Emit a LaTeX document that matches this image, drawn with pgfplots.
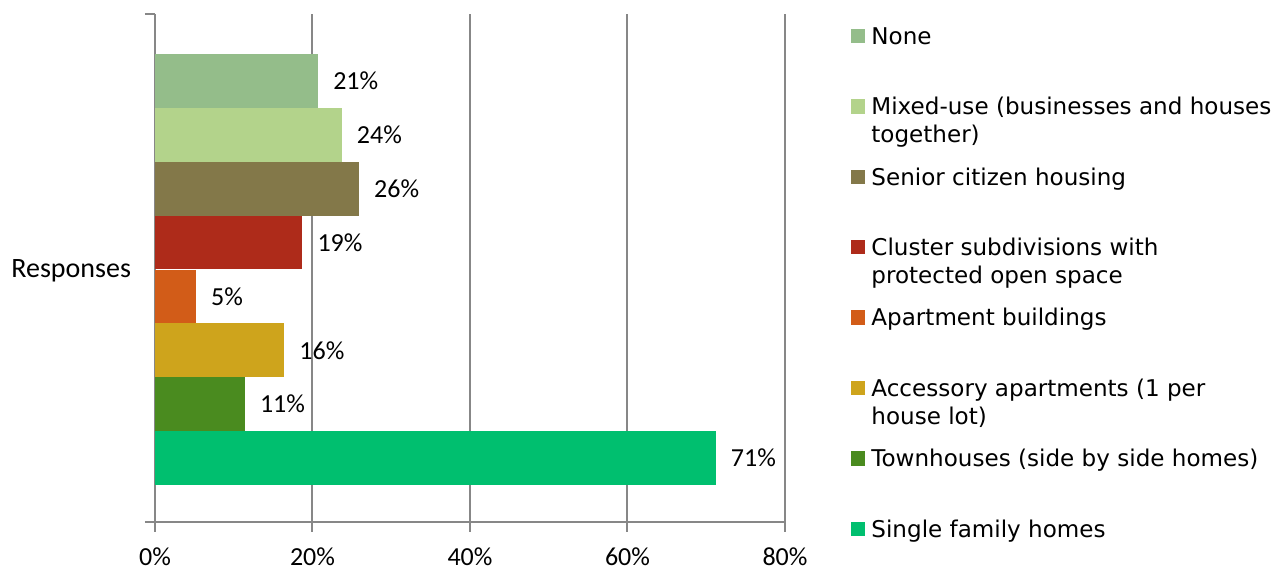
\documentclass[border=0pt]{standalone}
\usepackage{pgfplots}
\pgfplotsset{compat=1.18}
\usepackage{fontspec}
\setmainfont{Carlito}
\newfontfamily\legendfont{DejaVu Sans}

\definecolor{gridgray}{HTML}{878787}
\definecolor{cNone}{HTML}{94BD8A}
\definecolor{cMixed}{HTML}{B3D38B}
\definecolor{cSenior}{HTML}{837849}
\definecolor{cCluster}{HTML}{AE2B1A}
\definecolor{cApart}{HTML}{D25C18}
\definecolor{cAccess}{HTML}{CEA41C}
\definecolor{cTown}{HTML}{4A8B1F}
\definecolor{cSingle}{HTML}{00BF6F}

% legend entry: fixed height box, text from the top
\newcommand\lentry[1]{\parbox[t][52.8pt][t]{320pt}{\strut #1}}

\begin{document}
\begin{tikzpicture}
\begin{axis}[
    scale only axis,
    width=472.5pt, height=381pt,
    xmin=0, xmax=80, ymin=-1, ymax=1,
    xbar, bar width=0.2121,
    axis x line*=bottom, axis y line*=left,
    axis line style={-, gridgray, line width=1.5pt},
    xtick={0,20,40,60,80},
    xticklabel={\pgfmathprintnumber{\tick}\%},
    xticklabel style={anchor=base, inner sep=0pt, yshift=-25pt},
    ytick={-1,1}, yticklabels={},
    tick align=outside,
    major tick length=7.5pt,
    tick style={gridgray, line width=1.5pt},
    xmajorgrids,
    grid style={gridgray, line width=1.5pt},
    every axis y label/.style={at={(rel axis cs:0,0.5)}, anchor=base east,
        xshift=-14.5pt, yshift=-7.3pt, font=\fontsize{21}{25}\selectfont},
    ylabel={Responses},
    /pgf/number format/assume math mode=true,
    font=\fontsize{19.5}{23}\selectfont,
    point meta=x,
    nodes near coords={\pgfmathprintnumber[fixed,precision=0]{\pgfplotspointmeta}\%},
    nodes near coords style={anchor=west, inner sep=0pt, xshift=11.25pt, black},
    legend cell align=left,
    legend image code/.code={
        \fill[#1] (0pt,12.6pt) rectangle (10.8pt,23.4pt);
        \path (0pt,-23.4pt);
    },
    legend style={at={(1.1048,0.9788)}, anchor=north west, draw=none, fill=none,
        inner sep=0pt, outer sep=0pt, column sep=4.5pt, row sep=0pt,
        nodes={inner sep=0pt, text depth=},
        font=\legendfont\fontsize{17.3}{21}\selectfont},
]
\addplot[fill=cNone, draw=none, bar shift=0.7365] coordinates {(20.7,0)};
\addlegendentry{\lentry{None}}
\addplot[fill=cMixed, draw=none, bar shift=0.5244] coordinates {(23.7,0)};
\addlegendentry{\lentry{Mixed-use (businesses and houses\newline together)}}
\addplot[fill=cSenior, draw=none, bar shift=0.3123] coordinates {(25.9,0)};
\addlegendentry{\lentry{Senior citizen housing}}
\addplot[fill=cCluster, draw=none, bar shift=0.1002] coordinates {(18.7,0)};
\addlegendentry{\lentry{Cluster subdivisions with\newline protected open space}}
\addplot[fill=cApart, draw=none, bar shift=-0.1120] coordinates {(5.2,0)};
\addlegendentry{\lentry{Apartment buildings}}
\addplot[fill=cAccess, draw=none, bar shift=-0.3241] coordinates {(16.4,0)};
\addlegendentry{\lentry{Accessory apartments (1 per\newline house lot)}}
\addplot[fill=cTown, draw=none, bar shift=-0.5362] coordinates {(11.4,0)};
\addlegendentry{\lentry{Townhouses (side by side homes)}}
\addplot[fill=cSingle, draw=none, bar shift=-0.7483] coordinates {(71.2,0)};
\addlegendentry{\lentry{Single family homes}}
\coordinate (sw) at (rel axis cs:0,0);
\end{axis}
\pgfresetboundingbox
\path ([shift={(-116.25pt,-33.75pt)}]sw) rectangle ++(964.5pt,425.25pt);
\end{tikzpicture}
\end{document}
